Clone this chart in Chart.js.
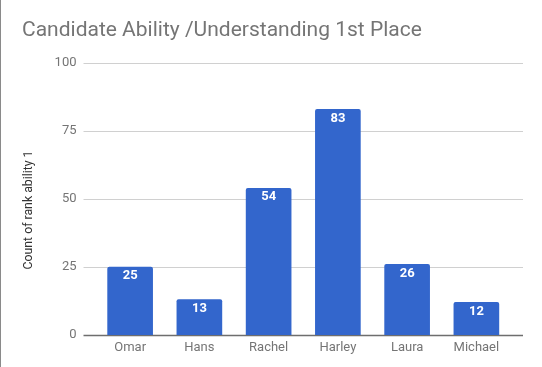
<!DOCTYPE html>
<html lang="en">
<head>
    <meta charset="UTF-8">
    <title>Candidate Ability /Understanding 1st Place</title>
    <script src="https://cdn.jsdelivr.net/npm/chart.js"></script>
    <style>
        body {
            margin: 0;
            background: #fff;
        }
        .wrap {
            position: relative;
            width: 542px;
            height: 367px;
        }
        .edge {
            position: absolute;
            left: 0;
            top: 0;
            width: 1px;
            height: 367px;
            background: #8a8a8a;
        }
        canvas {
            position: absolute;
            left: 0;
            top: 0;
        }
    </style>
</head>
<body>
    <div class="wrap">
        <canvas id="chart" width="542" height="367"></canvas>
        <div class="edge"></div>
    </div>

    <script>
        // Datos del gráfico
        const candidates = ['Omar', 'Hans', 'Rachel', 'Harley', 'Laura', 'Michael'];
        const counts = [25, 13, 54, 83, 26, 12];
        const yTicks = [0, 25, 50, 75, 100];
        const yTitle = 'Count of rank ability 1';

        const FONT = 'Roboto, Arial, sans-serif';

        // Líneas de la cuadrícula, más anchas que el área de las barras
        const gridPlugin = {
            id: 'wideGrid',
            beforeDatasetsDraw(chart) {
                const { ctx, chartArea, scales } = chart;
                const left = chartArea.left - 12;
                const right = chartArea.right + 12;
                ctx.save();
                yTicks.forEach(v => {
                    const y = Math.round(scales.y.getPixelForValue(v)) + 0.5;
                    ctx.beginPath();
                    ctx.strokeStyle = v === 0 ? '#6e6e6e' : '#d0d0d0';
                    ctx.lineWidth = v === 0 ? 1.6 : 1;
                    ctx.moveTo(left, y);
                    ctx.lineTo(right, y);
                    ctx.stroke();
                });
                // título del eje Y, algo más abajo que el centro
                ctx.translate(29, 210);
                ctx.rotate(-Math.PI / 2);
                ctx.fillStyle = '#333333';
                ctx.font = '12.3px ' + FONT;
                ctx.textAlign = 'center';
                ctx.textBaseline = 'middle';
                ctx.fillText(yTitle, 0, 0);
                ctx.restore();
            }
        };

        // Etiquetas de valor dentro de cada barra
        const valuePlugin = {
            id: 'barValues',
            afterDatasetsDraw(chart) {
                const { ctx } = chart;
                const meta = chart.getDatasetMeta(0);
                ctx.save();
                ctx.fillStyle = '#ffffff';
                ctx.font = 'bold 13px ' + FONT;
                ctx.textAlign = 'center';
                ctx.textBaseline = 'middle';
                meta.data.forEach((bar, i) => {
                    ctx.fillText(String(counts[i]), bar.x, bar.y + 9);
                });
                ctx.restore();
            }
        };

        const ctx = document.getElementById('chart').getContext('2d');
        const chart = new Chart(ctx, {
            type: 'bar',
            data: {
                labels: candidates,
                datasets: [{
                    label: yTitle,
                    data: counts,
                    backgroundColor: '#3366cc',
                    borderRadius: { topLeft: 2, topRight: 2 },
                    borderSkipped: 'bottom',
                    barThickness: 45
                }]
            },
            options: {
                responsive: false,
                animation: false,
                layout: {
                    padding: { left: 22, right: 31, top: 0, bottom: 0 }
                },
                plugins: {
                    legend: { display: false },
                    tooltip: { enabled: false },
                    title: {
                        display: true,
                        text: 'Candidate Ability /Understanding 1st Place',
                        align: 'start',
                        color: '#757575',
                        font: { family: FONT, size: 21, weight: 'normal' },
                        padding: { top: 18, bottom: 20 }
                    }
                },
                scales: {
                    x: {
                        grid: { display: false, drawTicks: false },
                        border: { display: false },
                        ticks: {
                            color: '#757575',
                            font: { family: FONT, size: 13 },
                            padding: 5,
                            maxRotation: 0
                        },
                        afterFit(scale) { scale.height = 32; }
                    },
                    y: {
                        min: 0,
                        max: 100,
                        afterBuildTicks(scale) {
                            scale.ticks = yTicks.map(v => ({ value: v }));
                        },
                        grid: { display: false, drawTicks: false },
                        border: { display: false },
                        ticks: {
                            color: '#757575',
                            font: { family: FONT, size: 13 },
                            padding: 19
                        },
                        afterFit(scale) { scale.width = 73.5; }
                    }
                }
            },
            plugins: [gridPlugin, valuePlugin]
        });
    </script>
</body>
</html>
